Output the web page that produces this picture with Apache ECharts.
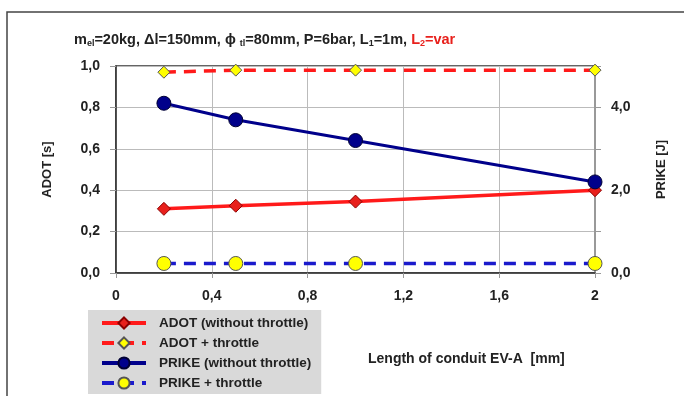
<!DOCTYPE html>
<html>
<head>
<meta charset="utf-8">
<script src="https://cdn.jsdelivr.net/npm/echarts@6/dist/echarts.min.js"></script>
<style>
html,body{margin:0;padding:0;background:#fff;}
#main{width:684px;height:396px;}
</style>
</head>
<body>
<div id="main"></div>
<script>
var lengths = [0.2, 0.5, 1.0, 2.0];
var adotNoThrottle = [0.31, 0.325, 0.345, 0.40];
var adotThrottle = [0.97, 0.98, 0.98, 0.98];
var prikeNoThrottle = [4.1, 3.7, 3.2, 2.2];
var prikeThrottle = [0.23, 0.23, 0.23, 0.23];

var xTicks = [0, 0.4, 0.8, 1.2, 1.6, 2];
var leftTicks = [0, 0.2, 0.4, 0.6, 0.8, 1.0];
var rightLabels = [0, 2, 4];

function pairs(ys){
	var out = [];
	for(var i=0;i<lengths.length;i++){ out.push([lengths[i], ys[i]]); }
	return out;
}
function comma(s){ return String(s).replace('.', ','); }

var font = 'Liberation Sans, Arial, sans-serif';
var chart = echarts.init(document.getElementById('main'));

var option = {
	animation: false,
	textStyle: {fontFamily: font},
	grid: {left:116, right:89, top:66, bottom:123, show:true, borderColor:'#333', borderWidth:1.5, backgroundColor:'#fff'},
	graphic: [
		{type:'rect', shape:{x:7, y:12, width:690, height:400}, style:{fill:'none', stroke:'#444', lineWidth:1.5}, z:-10},
		{type:'text', left:74, top:32, style:{
			text:'{t|m}{s|el}{t|=20kg, Δl=150mm, ϕ }{s|tl}{t|=80mm, P=6bar, L}{s|1}{t|=1m, }{r|L}{rs|2}{r|=var}',
			rich:{
				t:{fontSize:14.5, fontWeight:'bold', fill:'#222', fontFamily:font},
				s:{fontSize:9, fontWeight:'bold', fill:'#222', fontFamily:font, padding:[8,0,0,0]},
				r:{fontSize:14.5, fontWeight:'bold', fill:'#e8201c', fontFamily:font},
				rs:{fontSize:9, fontWeight:'bold', fill:'#e8201c', fontFamily:font, padding:[8,0,0,0]}
			}
		}},
		{type:'text', left:368, top:352, style:{text:'Length of conduit EV-A  [mm]', fontSize:14, fontWeight:'bold', fill:'#222', fontFamily:font}}
	],
	legend: {
		orient:'vertical', left:88, top:310, width:229, height:80,
		backgroundColor:'#d9d9d9', padding:[6,10,4,12], itemGap:6,
		itemWidth:44, itemHeight:14,
		lineStyle:{width:4},
		textStyle:{fontSize:13.5, fontWeight:'bold', color:'#222', fontFamily:font, padding:[0,0,0,8]},
		data:['ADOT (without throttle)', 'ADOT + throttle', 'PRIKE (without throttle)', 'PRIKE + throttle']
	},
	xAxis: {
		type:'value', min:0, max:2, interval:0.4,
		axisLine:{show:true, lineStyle:{color:'#333', width:1.5}},
		axisTick:{show:true, lineStyle:{color:'#999'}},
		splitLine:{show:true, lineStyle:{color:'#bbb', width:1}},
		axisLabel:{fontSize:14, fontWeight:'bold', color:'#222', margin:16,
			formatter:function(v){ return xTicks.indexOf(v) >= 0 ? comma(v) : ''; }}
	},
	yAxis: [
		{
			type:'value', min:0, max:1, interval:0.2,
			name:'ADOT [s]', nameLocation:'middle', nameGap:62, nameRotate:90,
			nameTextStyle:{fontSize:13, fontWeight:'bold', color:'#222'},
			axisLine:{show:true, lineStyle:{color:'#333', width:1.5}},
			axisTick:{show:true, length:6, lineStyle:{color:'#999'}},
			splitLine:{show:true, lineStyle:{color:'#bbb', width:1}},
			axisLabel:{fontSize:14, fontWeight:'bold', color:'#222', margin:16,
				formatter:function(v){ return leftTicks.indexOf(v) >= 0 ? comma(v.toFixed(1)) : ''; }}
		},
		{
			type:'value', min:0, max:5, interval:1, position:'right',
			name:'PRIKE [J]', nameLocation:'middle', nameGap:60, nameRotate:90,
			nameTextStyle:{fontSize:13, fontWeight:'bold', color:'#222'},
			axisLine:{show:true, lineStyle:{color:'#999', width:2}},
			axisTick:{show:true, length:6, lineStyle:{color:'#999'}},
			splitLine:{show:false},
			axisLabel:{fontSize:14, fontWeight:'bold', color:'#222', margin:16,
				formatter:function(v){ return rightLabels.indexOf(v) >= 0 ? comma(v.toFixed(1)) : ''; }}
		}
	],
	series: [
		{
			name:'ADOT (without throttle)', type:'line', yAxisIndex:0, data:pairs(adotNoThrottle),
			symbol:'diamond', symbolSize:13,
			lineStyle:{color:'#ff1a1a', width:3.5},
			itemStyle:{color:'#e8201c', borderColor:'#8b0000', borderWidth:1}
		},
		{
			name:'ADOT + throttle', type:'line', yAxisIndex:0, data:pairs(adotThrottle),
			symbol:'diamond', symbolSize:12,
			lineStyle:{color:'#ff1a1a', width:3.5, type:[12,8]},
			itemStyle:{color:'#ffff00', borderColor:'#555', borderWidth:1}
		},
		{
			name:'PRIKE (without throttle)', type:'line', yAxisIndex:1, data:pairs(prikeNoThrottle),
			symbol:'circle', symbolSize:14,
			lineStyle:{color:'#00008b', width:3},
			itemStyle:{color:'#00008b', borderColor:'#000033', borderWidth:1}
		},
		{
			name:'PRIKE + throttle', type:'line', yAxisIndex:1, data:pairs(prikeThrottle),
			symbol:'circle', symbolSize:14,
			lineStyle:{color:'#1a1acc', width:3.5, type:[12,8]},
			itemStyle:{color:'#ffff00', borderColor:'#555', borderWidth:1}
		}
	]
};
chart.setOption(option);
</script>
</body>
</html>
